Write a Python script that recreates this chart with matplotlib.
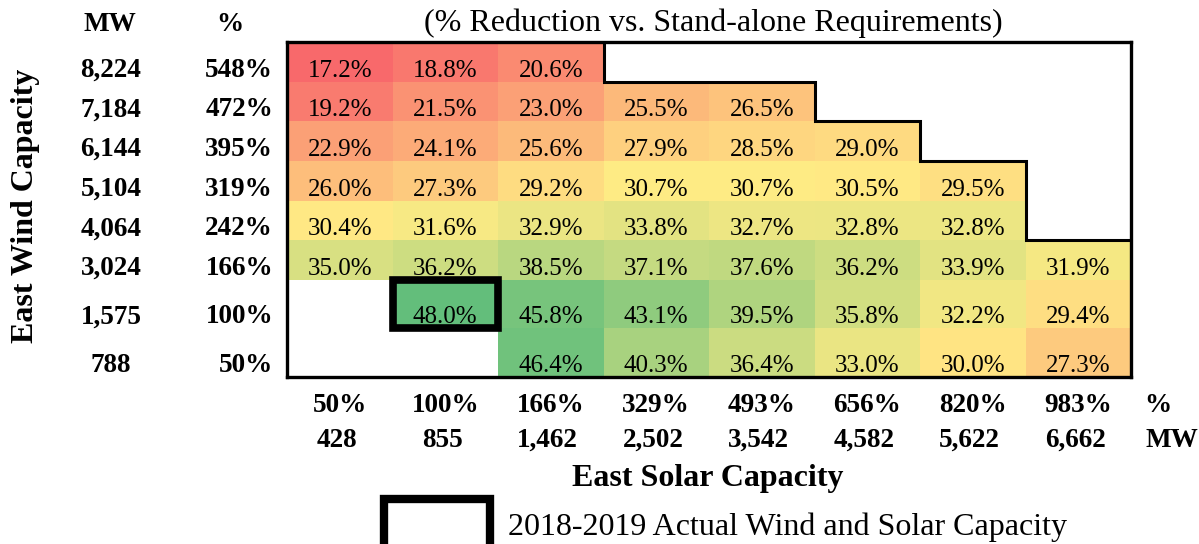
import matplotlib.pyplot as plt
import numpy as np
from matplotlib.colors import LinearSegmentedColormap, TwoSlopeNorm
from matplotlib.patches import Rectangle
from matplotlib.transforms import blended_transform_factory, offset_copy

plt.rcParams['font.family'] = ['Liberation Serif', 'DejaVu Serif']

# East solar capacity (columns)
solar_pct = ['50%', '100%', '166%', '329%', '493%', '656%', '820%', '983%']
solar_mw = ['428', '855', '1,462', '2,502', '3,542', '4,582', '5,622', '6,662']

# East wind capacity (rows, top to bottom)
wind_mw = ['8,224', '7,184', '6,144', '5,104', '4,064', '3,024', '1,575', '788']
wind_pct = ['548%', '472%', '395%', '319%', '242%', '166%', '100%', '50%']

# % reduction vs. stand-alone requirements
nan = np.nan
reduction = np.array([
    [17.2, 18.8, 20.6, nan, nan, nan, nan, nan],
    [19.2, 21.5, 23.0, 25.5, 26.5, nan, nan, nan],
    [22.9, 24.1, 25.6, 27.9, 28.5, 29.0, nan, nan],
    [26.0, 27.3, 29.2, 30.7, 30.7, 30.5, 29.5, nan],
    [30.4, 31.6, 32.9, 33.8, 32.7, 32.8, 32.8, nan],
    [35.0, 36.2, 38.5, 37.1, 37.6, 36.2, 33.9, 31.9],
    [nan, 48.0, 45.8, 43.1, 39.5, 35.8, 32.2, 29.4],
    [nan, nan, 46.4, 40.3, 36.4, 33.0, 30.0, 27.3],
])

# 2018-2019 actual capacity cell (row, col)
actual_row, actual_col = 6, 1

CELL_FS = 18
LABEL_FS = 19.5
BIG_FS = 23

W, H = 1199, 544
fig = plt.figure(figsize=(W / 100, H / 100), dpi=100)
ax = fig.add_axes([287 / W, 1 - 377 / H, 844 / W, 335 / H])

row_h = [1, 1, 1, 1, 1, 1, 1.21, 1.23]
y_edges = np.concatenate([[0], np.cumsum(row_h)])
x_edges = np.arange(len(solar_pct) + 1)
y_bot = y_edges[1:]
x_mid = x_edges[:-1] + 0.5

# Excel style red - yellow - green colour scale
cmap = LinearSegmentedColormap.from_list('ryg', ['#F8696B', '#FFEB84', '#63BE7B'])
vals = reduction[~np.isnan(reduction)]
norm = TwoSlopeNorm(vmin=vals.min(), vcenter=np.median(vals), vmax=vals.max())
ax.pcolormesh(x_edges, y_edges, np.ma.masked_invalid(reduction), cmap=cmap, norm=norm)

# cell text sits on the bottom of the cell, like Excel
cell_tr = offset_copy(ax.transData, fig=fig, y=5, units='dots')
for r in range(reduction.shape[0]):
    for c in range(reduction.shape[1]):
        v = reduction[r, c]
        if not np.isnan(v):
            ax.text(x_mid[c], y_bot[r], f'{v:.1f}%', transform=cell_tr, ha='center',
                    va='baseline', fontsize=CELL_FS)

# staircase border between data and empty cells
last = [int(np.max(np.where(~np.isnan(row))[0])) + 1 for row in reduction]
pts = []
for r, n in enumerate(last):
    pts.append((n, y_edges[r]))
    if n >= len(solar_pct):
        break
    pts.append((n, y_edges[r + 1]))
px, py = zip(*pts)
ax.plot(px, py, color='black', lw=2.2, solid_joinstyle='miter')

# highlighted actual capacity
ax.add_patch(Rectangle((x_edges[actual_col], y_edges[actual_row]), 1, row_h[actual_row],
                       fill=False, ec='black', lw=5.5, joinstyle='miter'))

ax.set_xlim(0, len(solar_pct))
ax.set_ylim(y_edges[-1], 0)
ax.set_xticks([])
ax.set_yticks([])
for s in ax.spines.values():
    s.set_linewidth(2.4)

# row labels
tr_rows = offset_copy(blended_transform_factory(fig.transFigure, ax.transData), fig=fig, y=5, units='dots')
for r in range(len(wind_mw)):
    ax.text(111 / W, y_bot[r], wind_mw[r], transform=tr_rows, ha='center', va='baseline',
            fontsize=LABEL_FS, fontweight='bold')
    ax.text(273 / W, y_bot[r], wind_pct[r], transform=tr_rows, ha='right', va='baseline',
            fontsize=LABEL_FS, fontweight='bold')
fig.text(110 / W, 1 - 31 / H, 'MW', ha='center', va='baseline', fontsize=LABEL_FS, fontweight='bold')
fig.text(230 / W, 1 - 31 / H, '%', ha='center', va='baseline', fontsize=LABEL_FS, fontweight='bold')
fig.text(26 / W, 1 - 206 / H, 'East Wind Capacity', rotation=90, ha='center', va='center',
         fontsize=BIG_FS, fontweight='bold')

# column labels
tr_cols = blended_transform_factory(ax.transData, fig.transFigure)
for c in range(len(solar_pct)):
    ax.text(x_mid[c], 1 - 412 / H, solar_pct[c], transform=tr_cols, ha='center',
            va='baseline', fontsize=LABEL_FS, fontweight='bold')
    ax.text(x_mid[c] - 0.03, 1 - 447 / H, solar_mw[c], transform=tr_cols, ha='center',
            va='baseline', fontsize=LABEL_FS, fontweight='bold')
fig.text(1158 / W, 1 - 412 / H, '%', ha='center', va='baseline', fontsize=LABEL_FS, fontweight='bold')
fig.text(1172 / W, 1 - 447 / H, 'MW', ha='center', va='baseline', fontsize=LABEL_FS, fontweight='bold')
fig.text(708 / W, 1 - 486 / H, 'East Solar Capacity', ha='center', va='baseline',
         fontsize=BIG_FS, fontweight='bold')

fig.text(713 / W, 1 - 31 / H, '(% Reduction vs. Stand-alone Requirements)', ha='center',
         va='baseline', fontsize=BIG_FS)

# legend
fig.patches.append(Rectangle((384 / W, 1 - 548 / H), 106 / W, 49 / H, fill=False, ec='black',
                             lw=6, transform=fig.transFigure, figure=fig))
fig.text(508 / W, 1 - 535 / H, '2018-2019 Actual Wind and Solar Capacity', ha='left',
         va='baseline', fontsize=BIG_FS)

fig.savefig('out.png', dpi=100)
